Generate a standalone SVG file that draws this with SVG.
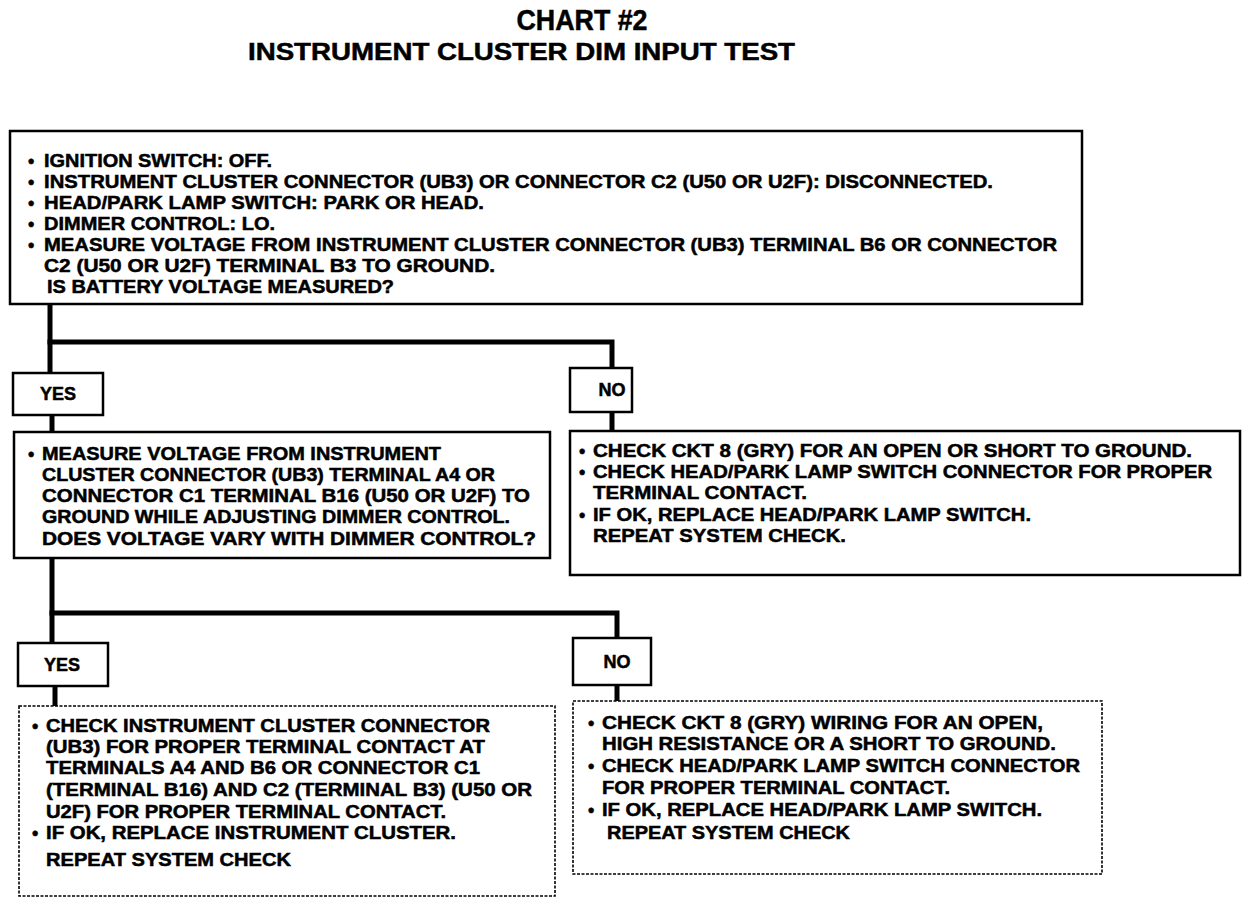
<svg xmlns="http://www.w3.org/2000/svg" width="1248" height="906" viewBox="0 0 1248 906">
<style>
text{font-family:"Liberation Sans",Arial,sans-serif;font-weight:bold;fill:#000;stroke:#000;stroke-width:0.5}
.t{font-size:18px}
.lbl{font-size:18px;text-anchor:middle}
.box{fill:#fff;stroke:#000;stroke-width:2.5}
.dot{fill:#fff;stroke:#000;stroke-width:1.6;stroke-dasharray:3 1.5}
.wire{fill:none;stroke:#000;stroke-width:5;stroke-linecap:square}
</style>
<rect width="1248" height="906" fill="#fff" stroke="none"/>
<g id="title">
<text x="582" y="30" font-size="29" text-anchor="middle" textLength="131" lengthAdjust="spacingAndGlyphs">CHART #2</text>
<text x="248" y="60" font-size="24" textLength="547" lengthAdjust="spacingAndGlyphs">INSTRUMENT CLUSTER DIM INPUT TEST</text>
</g>
<g id="connectors">
<polyline class="wire" points="50,305 50,373"/>
<polyline class="wire" points="50,342 612,342 612,368"/>
<polyline class="wire" points="52,415 52,432"/>
<polyline class="wire" points="612,412 612,431"/>
<polyline class="wire" points="52,560 52,643"/>
<polyline class="wire" points="52,613 617,613 617,638"/>
<polyline class="wire" points="55,686 55,706"/>
<polyline class="wire" points="617,685 617,701"/>
</g>
<g id="n1">
<rect class="box" x="10" y="131" width="1072" height="173"/>
<text class="t" x="28" y="167">•</text><text class="t" x="44" y="167" textLength="228" lengthAdjust="spacingAndGlyphs">IGNITION SWITCH: OFF.</text>
<text class="t" x="28" y="188">•</text><text class="t" x="44" y="188" textLength="949" lengthAdjust="spacingAndGlyphs">INSTRUMENT CLUSTER CONNECTOR (UB3) OR CONNECTOR C2 (U50 OR U2F): DISCONNECTED.</text>
<text class="t" x="28" y="209">•</text><text class="t" x="44" y="209" textLength="440" lengthAdjust="spacingAndGlyphs">HEAD/PARK LAMP SWITCH: PARK OR HEAD.</text>
<text class="t" x="28" y="230">•</text><text class="t" x="44" y="230" textLength="231" lengthAdjust="spacingAndGlyphs">DIMMER CONTROL: LO.</text>
<text class="t" x="28" y="251">•</text><text class="t" x="44" y="251" textLength="1013" lengthAdjust="spacingAndGlyphs">MEASURE VOLTAGE FROM INSTRUMENT CLUSTER CONNECTOR (UB3) TERMINAL B6 OR CONNECTOR</text>
<text class="t" x="44" y="272" textLength="451" lengthAdjust="spacingAndGlyphs">C2 (U50 OR U2F) TERMINAL B3 TO GROUND.</text>
<text class="t" x="47" y="293" textLength="347" lengthAdjust="spacingAndGlyphs">IS BATTERY VOLTAGE MEASURED?</text>
</g>
<g id="yes1">
<rect class="box" x="13" y="373" width="90" height="42"/>
<text class="lbl" x="58" y="400">YES</text>
</g>
<g id="no1">
<rect class="box" x="570" y="368" width="62" height="44"/>
<text class="lbl" x="612" y="396">NO</text>
</g>
<g id="n2">
<rect class="box" x="14" y="432" width="536" height="126"/>
<text class="t" x="28" y="460">•</text><text class="t" x="42" y="460" textLength="399" lengthAdjust="spacingAndGlyphs">MEASURE VOLTAGE FROM INSTRUMENT</text>
<text class="t" x="42" y="481" textLength="453" lengthAdjust="spacingAndGlyphs">CLUSTER CONNECTOR (UB3) TERMINAL A4 OR</text>
<text class="t" x="42" y="502" textLength="488" lengthAdjust="spacingAndGlyphs">CONNECTOR C1 TERMINAL B16 (U50 OR U2F) TO</text>
<text class="t" x="42" y="523" textLength="468" lengthAdjust="spacingAndGlyphs">GROUND WHILE ADJUSTING DIMMER CONTROL.</text>
<text class="t" x="42" y="545" textLength="494" lengthAdjust="spacingAndGlyphs">DOES VOLTAGE VARY WITH DIMMER CONTROL?</text>
</g>
<g id="n3">
<rect class="box" x="570" y="431" width="670" height="144"/>
<text class="t" x="579" y="457">•</text><text class="t" x="593" y="457" textLength="599" lengthAdjust="spacingAndGlyphs">CHECK CKT 8 (GRY) FOR AN OPEN OR SHORT TO GROUND.</text>
<text class="t" x="579" y="478">•</text><text class="t" x="593" y="478" textLength="619" lengthAdjust="spacingAndGlyphs">CHECK HEAD/PARK LAMP SWITCH CONNECTOR FOR PROPER</text>
<text class="t" x="593" y="499" textLength="214" lengthAdjust="spacingAndGlyphs">TERMINAL CONTACT.</text>
<text class="t" x="579" y="521">•</text><text class="t" x="593" y="521" textLength="438" lengthAdjust="spacingAndGlyphs">IF OK, REPLACE HEAD/PARK LAMP SWITCH.</text>
<text class="t" x="593" y="542" textLength="253" lengthAdjust="spacingAndGlyphs">REPEAT SYSTEM CHECK.</text>
</g>
<g id="yes2">
<rect class="box" x="18" y="643" width="90" height="43"/>
<text class="lbl" x="62" y="671">YES</text>
</g>
<g id="no2">
<rect class="box" x="573" y="638" width="78" height="47"/>
<text class="lbl" x="617" y="668">NO</text>
</g>
<g id="n4">
<rect class="dot" x="19" y="706" width="536" height="190"/>
<text class="t" x="32" y="732">•</text><text class="t" x="46" y="732" textLength="444" lengthAdjust="spacingAndGlyphs">CHECK INSTRUMENT CLUSTER CONNECTOR</text>
<text class="t" x="46" y="753" textLength="439" lengthAdjust="spacingAndGlyphs">(UB3) FOR PROPER TERMINAL CONTACT AT</text>
<text class="t" x="46" y="774" textLength="434" lengthAdjust="spacingAndGlyphs">TERMINALS A4 AND B6 OR CONNECTOR C1</text>
<text class="t" x="46" y="796" textLength="486" lengthAdjust="spacingAndGlyphs">(TERMINAL B16) AND C2 (TERMINAL B3) (U50 OR</text>
<text class="t" x="46" y="818" textLength="400" lengthAdjust="spacingAndGlyphs">U2F) FOR PROPER TERMINAL CONTACT.</text>
<text class="t" x="32" y="839">•</text><text class="t" x="46" y="839" textLength="410" lengthAdjust="spacingAndGlyphs">IF OK, REPLACE INSTRUMENT CLUSTER.</text>
<text class="t" x="46" y="866" textLength="245" lengthAdjust="spacingAndGlyphs">REPEAT SYSTEM CHECK</text>
</g>
<g id="n5">
<rect class="dot" x="573" y="701" width="529" height="173"/>
<text class="t" x="588" y="729">•</text><text class="t" x="602" y="729" textLength="441" lengthAdjust="spacingAndGlyphs">CHECK CKT 8 (GRY) WIRING FOR AN OPEN,</text>
<text class="t" x="602" y="750" textLength="454" lengthAdjust="spacingAndGlyphs">HIGH RESISTANCE OR A SHORT TO GROUND.</text>
<text class="t" x="588" y="772">•</text><text class="t" x="602" y="772" textLength="478" lengthAdjust="spacingAndGlyphs">CHECK HEAD/PARK LAMP SWITCH CONNECTOR</text>
<text class="t" x="602" y="794" textLength="348" lengthAdjust="spacingAndGlyphs">FOR PROPER TERMINAL CONTACT.</text>
<text class="t" x="588" y="816">•</text><text class="t" x="602" y="816" textLength="440" lengthAdjust="spacingAndGlyphs">IF OK, REPLACE HEAD/PARK LAMP SWITCH.</text>
<text class="t" x="607" y="839" textLength="243" lengthAdjust="spacingAndGlyphs">REPEAT SYSTEM CHECK</text>
</g>
</svg>
